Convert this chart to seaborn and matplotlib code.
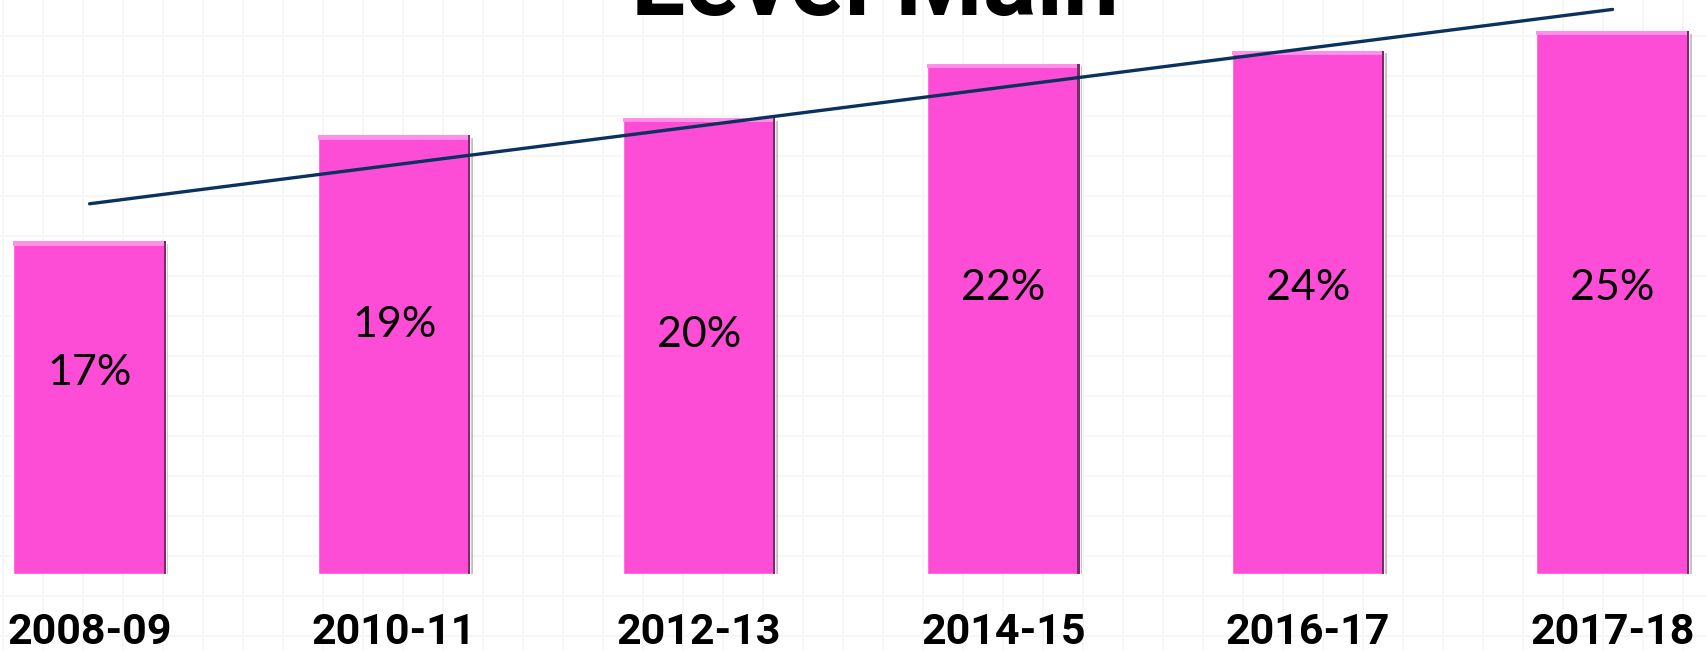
import numpy as np
import pandas as pd
import matplotlib
matplotlib.use('Agg')
import matplotlib.pyplot as plt
import matplotlib.patheffects as pe
from matplotlib.patches import Rectangle
import seaborn as sns

# данные
years = ['2008-09', '2010-11', '2012-13', '2014-15', '2016-17', '2017-18']
values = [15.3, 20.2, 21.0, 23.5, 24.1, 25.0]
pct_labels = ['17%', '19%', '20%', '22%', '24%', '25%']
label_y = [9.25, 11.45, 11.0, 13.15, 13.15, 13.15]  # где стоит подпись внутри столбца

df = pd.DataFrame({'year': years, 'value': values})

sns.set_theme(style='white')
plt.rcParams['font.family'] = ['Roboto', 'DejaVu Sans']

W, H = 1707, 651
fig = plt.figure(figsize=(W / 100, H / 100), dpi=100)

# фон в клетку
bg = fig.add_axes([0, 0, 1, 1], zorder=0)
bg.set_xlim(0, W)
bg.set_ylim(H, 0)
bg.set_xticks(np.arange(2.5, W, 40))
bg.set_yticks(np.arange(36, H, 40))
bg.grid(True, color='#f5f5f5', linewidth=1.2)
bg.tick_params(length=0, labelbottom=False, labelleft=False)
for s in bg.spines.values():
    s.set_visible(False)

ax = fig.add_axes([0, 77.5 / H, 1, 1 - 77.5 / H], zorder=1)
ax.patch.set_alpha(0)
sns.barplot(data=df, x='year', y='value', color='#FD4CD5', saturation=1,
            width=0.5, ax=ax, zorder=2)

# объём столбцов: тень, светлая кромка сверху, тёмный край справа
for p in ax.patches:
    p.set_path_effects([pe.SimplePatchShadow(offset=(2, -2), alpha=0.3), pe.Normal()])
    x0, w, h = p.get_x(), p.get_width(), p.get_height()
    ax.add_patch(Rectangle((x0, h - 0.2), w, 0.2, color='#FF8FE8', zorder=3, lw=0))
    ax.add_patch(Rectangle((x0 + w - 0.007, 0), 0.007, h, color='#7A2A6C', zorder=3, lw=0))

# линия тренда
idx = np.arange(len(values))
k, b = np.polyfit(idx, values, 1)
ax.plot(idx, k * idx + b, color='#0B3160', linewidth=2.4, zorder=4)

for i, t in enumerate(pct_labels):
    ax.text(i, label_y[i], t, ha='center', va='center', fontsize=31,
            family=['Lato', 'DejaVu Sans'], color='black', zorder=5)

ax.set_xlim(-0.294, 5.31)
ax.set_ylim(0, (H - 77.5) / 21.7)
ax.set_xlabel('')
ax.set_ylabel('')
ax.set_yticks([])
ax.tick_params(axis='x', length=0, pad=28)
for lab in ax.get_xticklabels():
    lab.set_fontsize(31)
    lab.set_fontweight('bold')
    lab.set_color('black')
for s in ax.spines.values():
    s.set_visible(False)

# заголовок обрезан верхним краем, как на исходной картинке
fig.text(875 / W, 1 - 15 / H, 'Level Main', ha='center', va='baseline',
         fontsize=72, fontweight='bold', color='black')

fig.savefig('out.png', dpi=100)
